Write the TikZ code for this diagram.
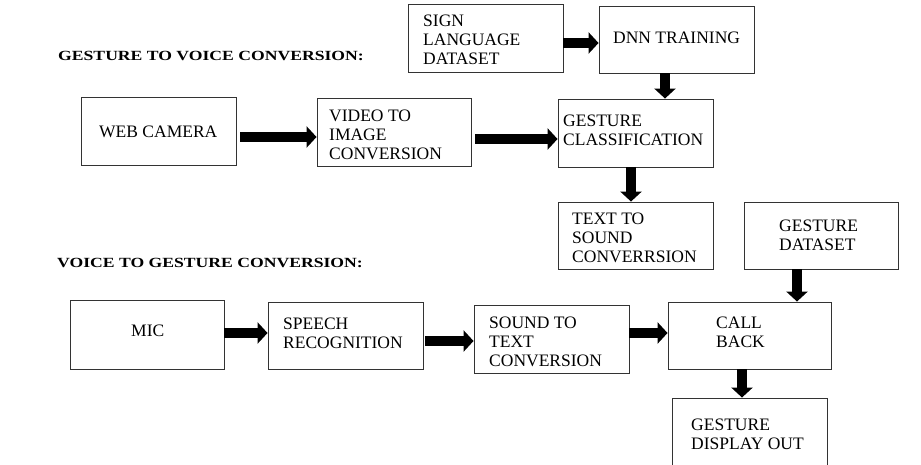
\documentclass[tikz,border=0pt]{standalone}
\usepackage{fontspec}
\usepackage{graphicx}
\setmainfont{Liberation Serif}
\usetikzlibrary{arrows.meta}
\tikzset{
  box/.style={draw=black!80, line width=0.9pt, inner sep=0pt},
  txt/.style={anchor=base west, align=left, inner sep=0pt, font=\fontsize{17.5}{19.3}\selectfont},
  head/.style={anchor=west, inner sep=0pt, font=\fontsize{14}{16}\selectfont\bfseries},
  flow/.style={line width=10pt, -{Triangle[length=10pt,width=21pt]}}
}
\begin{document}
\begin{tikzpicture}[x=1pt,y=-1pt]
\clip (0,0) rectangle (921,465);
\fill[white] (0,0) rectangle (921,465);
% boxes
\node[box, minimum width=155pt, minimum height=68pt] (sign) at (485.5,38) {};
\node[box, minimum width=155pt, minimum height=67pt] (dnn) at (676.5,39.5) {};
\node[box, minimum width=155pt, minimum height=68pt] (web) at (158.5,131) {};
\node[box, minimum width=154pt, minimum height=68pt] (video) at (394,132) {};
\node[box, minimum width=155pt, minimum height=68pt] (gc) at (635.5,133) {};
\node[box, minimum width=155pt, minimum height=67pt] (tts) at (635.5,235.5) {};
\node[box, minimum width=154pt, minimum height=67pt] (gd) at (821,235.5) {};
\node[box, minimum width=154pt, minimum height=69pt] (mic) at (147,334.5) {};
\node[box, minimum width=155pt, minimum height=67pt] (speech) at (345.5,335.5) {};
\node[box, minimum width=155pt, minimum height=68pt] (sound) at (551.5,339) {};
\node[box, minimum width=163pt, minimum height=67pt] (call) at (749.5,335.5) {};
\node[box, minimum width=155pt, minimum height=76pt] (gdo) at (749.5,436) {};
% texts (base = baseline of last line)
\node[txt] (tsign) at (423,64.8) {SIGN\\LANGUAGE\\DATASET};
\node[txt] (tdnn) at (613,43.8) {DNN TRAINING};
\node[txt] (tweb) at (99,137.8) {WEB CAMERA};
\node[txt] (tvideo) at (329,159.8) {VIDEO TO\\IMAGE\\CONVERSION};
\node[txt] (tgc) at (563,145.8) {GESTURE\\CLASSIFICATION};
\node[txt] (ttts) at (572,262.8) {TEXT TO\\SOUND\\CONVERRSION};
\node[txt] (tgd) at (779,250.8) {GESTURE\\DATASET};
\node[txt] (tmic) at (131,336.8) {MIC};
\node[txt] (tspeech) at (283,348.8) {SPEECH\\RECOGNITION};
\node[txt] (tsound) at (489,366.8) {SOUND TO\\TEXT\\CONVERSION};
\node[txt] (tcall) at (716,347.8) {CALL\\BACK};
\node[txt] (tgdo) at (691,449.8) {GESTURE\\DISPLAY OUT};
% headings
\node[head] (h1) at (58,56) {\scalebox{1.26}[1]{GESTURE TO VOICE CONVERSION:}};
\node[head] (h2) at (57,263) {\scalebox{1.26}[1]{VOICE TO GESTURE CONVERSION:}};
% arrows
\draw[flow] (sign.east |- 0,43) -- (dnn.west |- 0,43);
\draw[flow] (dnn.south -| 665,0) -- (gc.north -| 665,0);
\draw[flow] ([xshift=4pt]web.east |- 0,137) -- (video.west |- 0,137);
\draw[flow] ([xshift=4pt]video.east |- 0,139) -- (gc.west |- 0,139);
\draw[flow] (gc.south -| 631,0) -- (tts.north -| 631,0);
\draw[flow] (mic.east |- 0,333) -- (speech.west |- 0,333);
\draw[flow] ([xshift=2pt]speech.east |- 0,341) -- (sound.west |- 0,341);
\draw[flow] (sound.east |- 0,333) -- (call.west |- 0,333);
\draw[flow] (gd.south -| 797,0) -- (call.north -| 797,0);
\draw[flow] (call.south -| 742,0) -- (gdo.north -| 742,0);
\end{tikzpicture}
\end{document}
